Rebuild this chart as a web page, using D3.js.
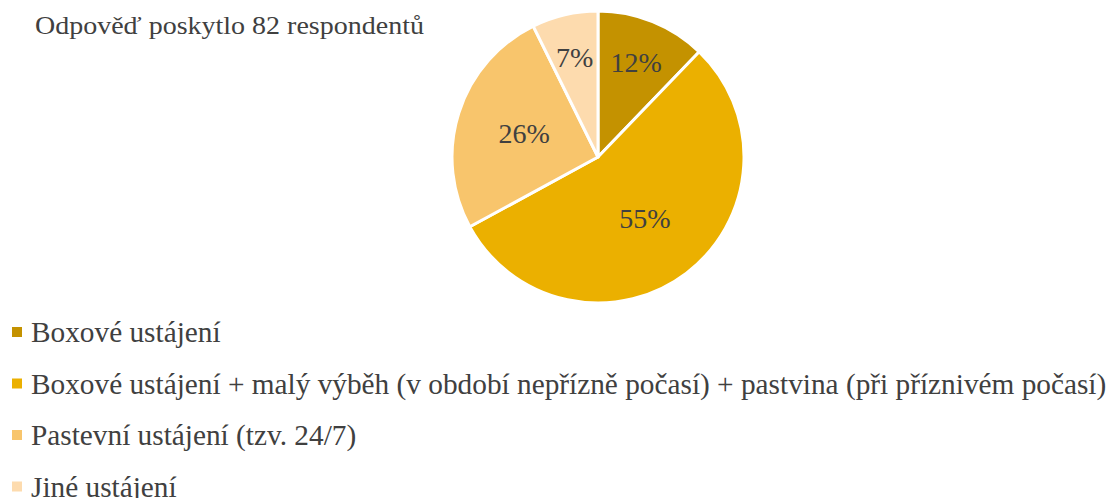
<!DOCTYPE html>
<html>
<head>
<meta charset="utf-8">
<script src="https://cdn.jsdelivr.net/npm/d3@7"></script>
<style>
  body { margin: 0; background: #fff; }
  svg text { font-family: "Liberation Serif", "Times New Roman", serif; fill: #404040; }
</style>
</head>
<body>
<svg id="chart" width="1114" height="498"></svg>
<script>
// data (82 respondents)
const title = 'Odpověď poskytlo 82 respondentů'
const categories = [
    'Boxové ustájení',
    'Boxové ustájení + malý výběh (v období nepřízně počasí) + pastvina (při příznivém počasí)',
    'Pastevní ustájení (tzv. 24/7)',
    'Jiné ustájení'
]
const counts = [10, 45, 21, 6]
const colors = ['#c49200', '#ebb000', '#f8c56c', '#fddbae']

const total = d3.sum(counts)
const rows = categories.map((c, i) => ({name: c, value: counts[i], color: colors[i]}))

const svg = d3.select('#chart')

// title (the source picture is a bit stretched sideways)
svg.append('text')
    .attr('transform', 'translate(35,34) scale(1.12,1)')
    .style('font-size', '25px')
    .text(title)

// pie
const cx = 598, cy = 157, r = 146
const pie = d3.pie().sort(null).value(d => d.value)
const arc = d3.arc().innerRadius(0).outerRadius(r)

let g = svg.append('g').attr('transform', `translate(${cx},${cy})`)

let arcs = pie(rows)

g.selectAll('path')
    .data(arcs)
    .enter()
    .append('path')
    .attr('d', arc)
    .attr('fill', d => d.data.color)
    .attr('stroke', '#fff')
    .attr('stroke-width', 3)
    .attr('stroke-linejoin', 'round')

// small slices get their label further out (like Excel best fit)
g.selectAll('.lbl')
    .data(arcs)
    .enter()
    .append('text')
    .attr('class', 'lbl')
    .attr('transform', d => {
        let share = d.data.value / total
        let lr = share < 0.15 ? r * 0.7 : r * 0.53
        let a = (d.startAngle + d.endAngle) / 2
        return `translate(${Math.sin(a) * lr},${-Math.cos(a) * lr})`
    })
    .attr('text-anchor', 'middle')
    .attr('dominant-baseline', 'central')
    .style('font-size', '28px')
    .text(d => Math.round(d.data.value / total * 100) + '%')

// legend
let legend = svg.append('g')
    .selectAll('g')
    .data(rows)
    .enter()
    .append('g')
    .attr('transform', (d, i) => `translate(0,${342 + i * 51.5})`)

legend.append('rect')
    .attr('x', 12)
    .attr('y', -15)
    .attr('width', 10)
    .attr('height', 10)
    .attr('fill', d => d.color)

legend.append('text')
    .attr('x', 31)
    .attr('y', 0)
    .style('font-size', '29.3px')
    .text(d => d.name)
</script>
</body>
</html>
